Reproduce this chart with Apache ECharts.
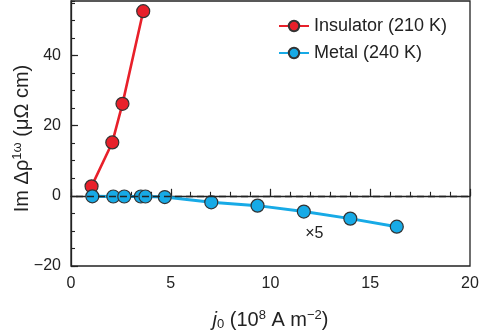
<!DOCTYPE html>
<html>
<head>
<meta charset="utf-8">
<script src="https://cdn.jsdelivr.net/npm/echarts@6/dist/echarts.min.js"></script>
<style>
  html, body { margin: 0; padding: 0; background: #fff; }
  #chart { width: 480px; height: 334px; }
</style>
</head>
<body>
<div id="chart"></div>
<script>
// Current density j0 (10^8 A m^-2) and Im Δρ^1ω (μΩ cm)
const insulatorJ = [1.03, 2.07, 2.58, 3.62];
const insulatorRho = [2.7, 15.2, 26.2, 52.6];

const metalJ = [1.07, 2.12, 2.67, 3.5, 3.73, 4.7, 7.03, 9.35, 11.67, 14.0, 16.33];
const metalRho = [-0.15, -0.2, -0.2, -0.2, -0.2, -0.35, -1.85, -2.8, -4.5, -6.5, -8.8];

const seriesNames = ['Insulator (210 K)', 'Metal (240 K)'];
const xTicks = [0, 5, 10, 15, 20];
const yTicks = [-20, 0, 20, 40];

const FONT = 'Liberation Sans, Arial, sans-serif';
const INK = '#222';

const pairs = (xs, ys) => xs.map((x, i) => [x, ys[i]]);

const chart = echarts.init(document.getElementById('chart'), null, { renderer: 'canvas' });

const majorAxisCommon = {
  axisLine: { show: true, lineStyle: { color: INK, width: 1.3 } },
  axisTick: { show: true, inside: true, length: 7, lineStyle: { color: INK, width: 1.2 } },
  splitLine: { show: false },
  axisLabel: { color: INK, fontSize: 16, fontFamily: FONT, margin: 10 }
};
const minorAxisCommon = {
  axisLine: { show: false },
  axisTick: { show: true, inside: true, length: 4, lineStyle: { color: INK, width: 1.1 } },
  splitLine: { show: false },
  axisLabel: { show: false }
};

chart.setOption({
  animation: false,
  backgroundColor: '#fff',
  textStyle: { fontFamily: FONT },
  grid: {
    left: 71, right: 10, top: 1, bottom: 68,
    containLabel: false, outerBoundsMode: 'none',
    show: true, borderColor: INK, borderWidth: 1.3, backgroundColor: 'transparent'
  },
  legend: {
    data: seriesNames,
    orient: 'vertical',
    left: 273, top: 12,
    itemWidth: 30, itemHeight: 13,
    itemGap: 9, itemTextGap: 10,
    textStyle: { color: INK, fontSize: 18, fontFamily: FONT }
  },
  xAxis: [
    Object.assign({}, majorAxisCommon, {
      type: 'value', min: xTicks[0], max: xTicks[xTicks.length - 1], interval: 5,
      name: '{j|j}{sub|0} (10{sup|8} A m{sup|−2})',
      nameLocation: 'middle', nameGap: 43, nameMoveOverlap: false,
      nameTextStyle: {
        color: INK, fontSize: 20, fontFamily: FONT,
        rich: {
          j: { fontSize: 20, fontStyle: 'italic', fontFamily: FONT, color: INK },
          sub: { fontSize: 13, fontFamily: FONT, color: INK, padding: [8, 0, 0, 0] },
          sup: { fontSize: 13, fontFamily: FONT, color: INK, padding: [0, 0, 9, 0] }
        }
      }
    }),
    Object.assign({}, minorAxisCommon, {
      type: 'value', min: 0, max: 20, interval: 1, position: 'bottom'
    })
  ],
  yAxis: [
    Object.assign({}, majorAxisCommon, {
      type: 'value', min: yTicks[0], max: 55.5, interval: 20,
      axisLabel: Object.assign({}, majorAxisCommon.axisLabel, { showMaxLabel: false,
        formatter: v => (v % 20 === 0 ? String(v).replace('-', '−') : '') }),
      name: 'Im Δρ{sup|1ω} (μΩ cm)',
      nameLocation: 'middle', nameRotate: 90, nameGap: 38, nameMoveOverlap: false,
      nameTextStyle: {
        color: INK, fontSize: 20, fontFamily: FONT, padding: [0, 10, 0, 0],
        rich: {
          sup: { fontSize: 13, fontFamily: FONT, color: INK, padding: [0, 0, 9, 0] }
        }
      }
    }),
    Object.assign({}, minorAxisCommon, {
      type: 'value', min: -20, max: 55.5, interval: 5, position: 'left'
    })
  ],
  series: [
    {
      name: seriesNames[0],
      type: 'line',
      xAxisIndex: 0, yAxisIndex: 0,
      data: pairs(insulatorJ, insulatorRho),
      symbol: 'circle', symbolSize: 13,
      lineStyle: { color: '#e8202a', width: 2.6 },
      itemStyle: { color: '#e8202a', borderColor: '#333', borderWidth: 1.2 },
      z: 3,
      markLine: {
        silent: true, symbol: 'none', label: { show: false },
        lineStyle: { color: INK, type: [7, 4], width: 1.3 },
        data: [[{ coord: [0.25, 0] }, { coord: [20, 0] }]]
      }
    },
    {
      name: seriesNames[1],
      type: 'line',
      xAxisIndex: 0, yAxisIndex: 0,
      data: pairs(metalJ, metalRho),
      symbol: 'circle', symbolSize: 13,
      lineStyle: { color: '#17aae6', width: 3 },
      itemStyle: { color: '#17aae6', borderColor: '#333', borderWidth: 1.2 },
      z: 4,
      markPoint: {
        silent: true,
        data: [{
          coord: [12.2, -10.7], symbol: 'circle', symbolSize: 0,
          label: { show: true, position: 'inside', formatter: '×5', color: INK, fontSize: 16, fontFamily: FONT }
        }]
      }
    }
  ]
});
</script>
</body>
</html>
